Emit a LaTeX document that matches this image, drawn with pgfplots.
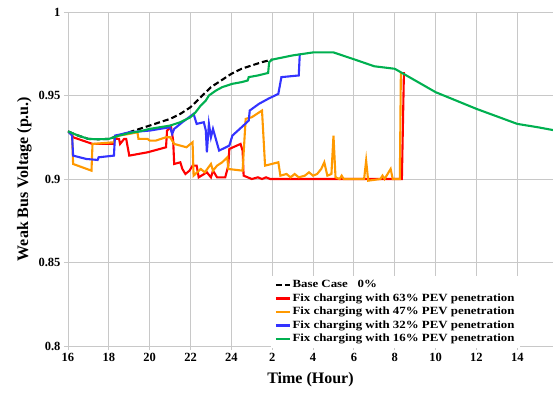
\documentclass[border=0pt]{standalone}
\usepackage{fontspec}
\setmainfont{Liberation Serif}
\newfontfamily\legfont[FakeStretch=1.17]{Liberation Serif}
\usepackage{pgfplots}
\pgfplotsset{compat=1.18}
\definecolor{cRed}{HTML}{FF0000}
\definecolor{cOrange}{HTML}{FF9900}
\definecolor{cBlue}{HTML}{3333FF}
\definecolor{cGreen}{HTML}{00B050}
\definecolor{cGrid}{HTML}{C8C8C8}
\begin{document}
\begin{tikzpicture}
\begin{axis}[
  at={(0pt,0pt)}, anchor=south west,
  scale only axis, width=485pt, height=334pt,
  xmin=16, xmax=39.75, ymin=0.8, ymax=1,
  axis lines=left, axis line style={-, draw=cGrid, line width=0.8pt},
  grid=major, major grid style={cGrid, line width=0.8pt},
  xtick={16,18,...,38},
  xticklabels={\textbf{16},\textbf{18},\textbf{20},\textbf{22},\textbf{24},\textbf{2},\textbf{4},\textbf{6},\textbf{8},\textbf{10},\textbf{12},\textbf{14}},
  ytick={0.8,0.85,0.9,0.95,1},
  yticklabels={\textbf{0.8},\textbf{0.85},\textbf{0.9},\textbf{0.95},\textbf{1}},
  tick align=outside, major tick length=4pt, tick style={cGrid, line width=0.8pt},
  ticklabel style={font=\bfseries\fontsize{12.5}{14}\selectfont, text=black},
  xlabel={Time (Hour)}, ylabel={Weak Bus Voltage (p.u.)},
  label style={font=\bfseries\fontsize{16}{18}\selectfont},
  xlabel style={yshift=-4pt},
  legend cell align=left,
  legend style={at={(0.418,0.2095)}, anchor=north west, draw=none, fill=white,
    inner xsep=4pt, inner ysep=2pt,
    font=\legfont\bfseries\fontsize{11}{13}\selectfont,
    nodes={text depth=2.5pt, text height=8pt, inner ysep=1.5pt, inner xsep=1.5pt}},
  legend image code/.code={\draw[#1] (0pt,0pt) -- (14pt,0pt);},
]
\addplot[black, line width=2.1pt, dash pattern=on 6pt off 3pt] coordinates {
(16,0.9285) (16.5,0.926) (17,0.924) (17.5,0.9238) (18,0.924) (18.5,0.926) (19,0.928)
(19.5,0.930) (20,0.932) (20.5,0.934) (21,0.936) (21.5,0.939) (22,0.943) (22.5,0.949)
(23,0.955) (23.5,0.959) (24,0.963) (24.5,0.966) (25,0.968) (25.5,0.970) (26,0.9715)};
\addlegendentry{Base Case\ \ \ 0\%}
\addplot[cRed, line width=2.1pt] coordinates {
(16,0.9285) (16.2,0.9265) (16.25,0.925) (17.2,0.921) (18.25,0.921) (18.3,0.924) (18.5,0.924)
(18.55,0.921) (18.75,0.924) (18.85,0.924) (19.0,0.914) (19.9,0.916) (20.8,0.919) (20.85,0.929)
(21.05,0.931) (21.15,0.923) (21.2,0.909) (21.5,0.910) (21.6,0.906) (21.75,0.903) (21.95,0.905)
(22.1,0.908) (22.3,0.908) (22.4,0.901) (22.8,0.904) (23.0,0.901) (23.1,0.905) (23.3,0.901)
(23.7,0.901) (23.85,0.908) (23.9,0.918) (24.45,0.921) (24.55,0.917) (24.6,0.902) (25.0,0.900)
(25.3,0.901) (25.5,0.900) (25.7,0.901) (25.9,0.900) (32.35,0.900) (32.45,0.964)};
\addlegendentry{Fix charging with 63\% PEV penetration}
\addplot[cOrange, line width=2.1pt] coordinates {
(16,0.9285) (16.2,0.9265) (16.25,0.909) (17.15,0.905) (17.2,0.921) (18.25,0.922) (18.3,0.925)
(18.5,0.926) (19.0,0.927) (19.4,0.928) (19.45,0.924) (19.9,0.924) (20.0,0.923) (20.3,0.923)
(20.8,0.925) (21.0,0.925) (21.2,0.921) (21.8,0.919) (22.1,0.922) (22.15,0.902) (22.5,0.906)
(22.7,0.904) (23.0,0.909) (23.1,0.905) (23.3,0.908) (23.55,0.910) (23.8,0.913) (23.85,0.906)
(24.55,0.905) (24.7,0.936) (25.0,0.937) (25.5,0.941) (25.65,0.908) (26.3,0.910) (26.4,0.902)
(26.7,0.903) (26.9,0.901) (27.1,0.903) (27.3,0.901) (27.6,0.902) (27.8,0.904) (28.0,0.902)
(28.2,0.903) (28.4,0.906) (28.55,0.910) (28.7,0.902) (28.9,0.903) (29.0,0.926) (29.1,0.901)
(29.3,0.900) (29.4,0.902) (29.5,0.900) (30.5,0.900) (30.6,0.911) (30.7,0.899) (31.3,0.900)
(31.4,0.902) (31.5,0.900) (31.8,0.906) (31.9,0.900) (32.25,0.900) (32.3,0.964)};
\addlegendentry{Fix charging with 47\% PEV penetration}
\addplot[cBlue, line width=2.1pt] coordinates {
(16,0.9285) (16.2,0.926) (16.25,0.914) (16.9,0.912) (17.45,0.9114) (17.5,0.913) (18.25,0.914)
(18.3,0.926) (18.5,0.9265) (19,0.928) (19.5,0.9285) (20,0.929) (20.5,0.930) (21,0.931)
(21.1,0.927) (21.2,0.930) (21.6,0.934) (22.15,0.939) (22.3,0.933) (22.65,0.934) (22.75,0.929)
(22.8,0.916) (22.9,0.933) (23.0,0.925) (23.1,0.930) (23.4,0.917) (23.9,0.920) (24.05,0.926)
(24.5,0.931) (24.85,0.935) (24.9,0.941) (25.35,0.945) (25.8,0.948) (26.3,0.951) (26.45,0.961)
(27.3,0.962) (27.35,0.975)};
\addlegendentry{Fix charging with 32\% PEV penetration}
\addplot[cGreen, line width=2.1pt] coordinates {
(16,0.9285) (16.5,0.926) (17.0,0.924) (17.5,0.9238) (18.0,0.9240) (18.5,0.926) (19,0.9275)
(19.5,0.9285) (20,0.930) (20.5,0.931) (21,0.932) (21.5,0.934) (22,0.937) (22.25,0.940)
(22.5,0.944) (22.75,0.947) (22.9,0.950) (23.25,0.953) (23.55,0.955) (24.05,0.957) (24.5,0.958)
(24.8,0.959) (24.85,0.961) (25.3,0.962) (25.8,0.9635) (25.85,0.970) (26,0.9715) (27,0.974)
(28,0.9758) (29,0.9758) (30,0.9717) (31,0.9675) (32,0.966) (33,0.959) (34,0.952) (35,0.947)
(36,0.942) (37,0.9375) (38,0.933) (39,0.931) (39.75,0.9293)};
\addlegendentry{Fix charging with 16\% PEV penetration}
\end{axis}
\pgfresetboundingbox
\path[use as bounding box] (-68pt,-48pt) rectangle (485pt,346pt);
\end{tikzpicture}
\end{document}
